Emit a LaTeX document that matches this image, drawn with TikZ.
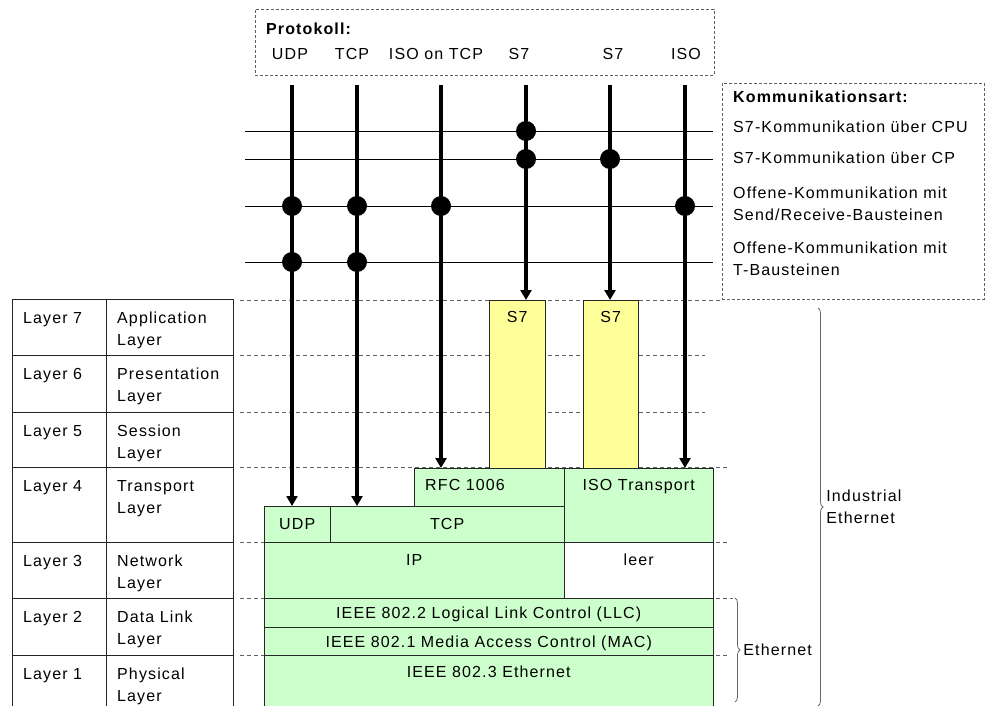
\documentclass[tikz,border=0pt]{standalone}
\usepackage{fontspec}
\setmainfont[LetterSpace=7]{Liberation Sans}
\usetikzlibrary{arrows.meta,decorations.pathreplacing,positioning}
\definecolor{boxgreen}{HTML}{CCFFCC}
\definecolor{boxyellow}{HTML}{FFFF99}
\definecolor{guidegray}{HTML}{606060}

\begin{document}
\begin{tikzpicture}[
x=1pt, y=-1pt,
every node/.style={font=\fontsize{16}{22}\selectfont, inner sep=0pt},
title/.style={font=\fontsize{16}{22}\selectfont\bfseries, anchor=west},
cellbox/.style={draw=black!85, anchor=north west},
celltext/.style={anchor=north west, align=left},
layerbox/.style={cellbox, fill=boxgreen, text depth=0pt},
s7box/.style={cellbox, fill=boxyellow},
guide/.style={draw=guidegray, line width=0.9pt, dash pattern=on 4pt off 3pt},
frame/.style={draw=guidegray, line width=0.9pt, dash pattern=on 3pt off 2pt, anchor=north west},
proto/.style={line width=3.5pt, -{Triangle[length=10pt,width=11pt]}},
comm/.style={line width=1pt},
bracket/.style={draw=black!60, line width=0.8pt, decorate, decoration={brace, amplitude=5pt}}
]
\useasboundingbox (0,0) rectangle (987,706);
\clip (0,0) rectangle (987,706);

% Hilfslinien
\foreach \y/\e in {300/722, 355/705, 412/705, 467/730, 542/730, 598/733, 655/730}
  \draw[guide] (240,\y) -- (\e,\y);

% OSI-Schichten
\foreach \i/\top/\h/\name in {7/299/56/Application, 6/355/57/Presentation, 5/412/55/Session, 4/467/75/Transport, 3/542/56/Network, 2/598/57/Data Link, 1/655/65/Physical}{
  \node[cellbox, minimum width=94, minimum height=\h] (L\i) at (12,\top) {};
  \node[cellbox, minimum width=127, minimum height=\h] (N\i) at (106,\top) {};
  \node[celltext] (L\i t) at ([xshift=11pt,yshift=-13pt]L\i.north west) {Layer \i};
  \node[celltext] (N\i t) at ([xshift=11pt,yshift=-13pt]N\i.north west) {\name\\Layer};
}

% Protokolle
\node[frame, minimum width=459, minimum height=66] (PROT) at (255,9) {};
\node[title] (PROTt) at (266,29) {Protokoll:};
\node (pUDP) at (290,54) {UDP};
\node (pTCP) at (352,54) {TCP};
\node (pISOTCP) at (436,54) {ISO on TCP};
\node (pS7a) at (519,54) {S7};
\node (pS7b) at (613,54) {S7};
\node (pISO) at (686,54) {ISO};

% Kommunikationsart
\node[frame, minimum width=262, minimum height=216] (KOM) at (722,83) {};
\node[title] (KOMt) at (733,97) {Kommunikationsart:};
\node[anchor=west] (K1t) at (733,127) {S7-Kommunikation über CPU};
\node[anchor=west] (K2t) at (733,158) {S7-Kommunikation über CP};
\node[anchor=west, align=left] (K3t) at (733,204) {Offene-Kommunikation mit\\Send/Receive-Bausteinen};
\node[anchor=west, align=left] (K4t) at (733,259) {Offene-Kommunikation mit\\T-Bausteinen};

% Bausteine
\node[s7box, minimum width=56, minimum height=168] (S7a) at (489,300) {};
\node[s7box, minimum width=55, minimum height=168] (S7b) at (583,300) {};
\node[layerbox, minimum width=150, minimum height=38] (RFC) at (414,468) {};
\node[layerbox, minimum width=149, minimum height=74] (ISOT) at (564,468) {};
\node[layerbox, minimum width=66, minimum height=36] (UDP) at (264,506) {UDP};
\node[layerbox, minimum width=234, minimum height=36] (TCP) at (330,506) {TCP};
\node[layerbox, minimum width=300, minimum height=56] (IP) at (264,542) {};
\node[cellbox, minimum width=149, minimum height=56] (LEER) at (564,542) {};
\node[layerbox, minimum width=449, minimum height=29] (LLC) at (264,598) {IEEE 802.2 Logical Link Control (LLC)};
\node[layerbox, minimum width=449, minimum height=28] (MAC) at (264,627) {IEEE 802.1 Media Access Control (MAC)};
\node[layerbox, minimum width=449, minimum height=70] (ETH) at (264,655) {};

\node[below=11pt of S7a.north] (S7at) {S7};
\node[below=11pt of S7b.north] (S7bt) {S7};
\node[below right=11pt and 11pt of RFC.north west] (RFCt) {RFC 1006};
\node[below=11pt of ISOT.north] (ISOTt) {ISO Transport};
\node[below=12pt of IP.north] (IPt) {IP};
\node[below=12pt of LEER.north] (LEERt) {leer};
\node[below=11pt of ETH.north] (ETHt) {IEEE 802.3 Ethernet};

% Kommunikationslinien
\foreach \k/\y in {1/131, 2/159, 3/206, 4/262}{
  \coordinate (K\k w) at (245,\y);
  \coordinate (K\k e) at (713,\y);
  \draw[comm] (K\k w) -- (K\k e);
}

% Pfeile
\coordinate (A1) at (292,85);
\coordinate (A2) at (357,85);
\coordinate (A3) at (441,85);
\coordinate (A4) at (526,85);
\coordinate (A5) at (610,85);
\coordinate (A6) at (685,85);
\draw[proto] (A1) -- (A1 |- UDP.north);
\draw[proto] (A2) -- (A2 |- TCP.north);
\draw[proto] (A3) -- (A3 |- RFC.north);
\draw[proto] (A4) -- (A4 |- S7a.north);
\draw[proto] (A5) -- (A5 |- S7b.north);
\draw[proto] (A6) -- (A6 |- ISOT.north);

\foreach \a/\k in {4/1, 4/2, 5/2, 1/3, 2/3, 3/3, 6/3, 1/4, 2/4}
  \fill (A\a |- K\k w) circle (10pt);

% Klammern
\coordinate (IEtop) at (818,308);
\coordinate (IEbot) at (818,706);
\draw[bracket] (IEtop) -- (IEbot) node[midway, right=8pt, align=left] (IE) {Industrial\\Ethernet};
\coordinate (ETtop) at (735,598);
\coordinate (ETbot) at (735,702);
\draw[bracket] (ETtop) -- (ETbot) node[midway, right=8pt] (ET) {Ethernet};

\end{tikzpicture}
\end{document}
